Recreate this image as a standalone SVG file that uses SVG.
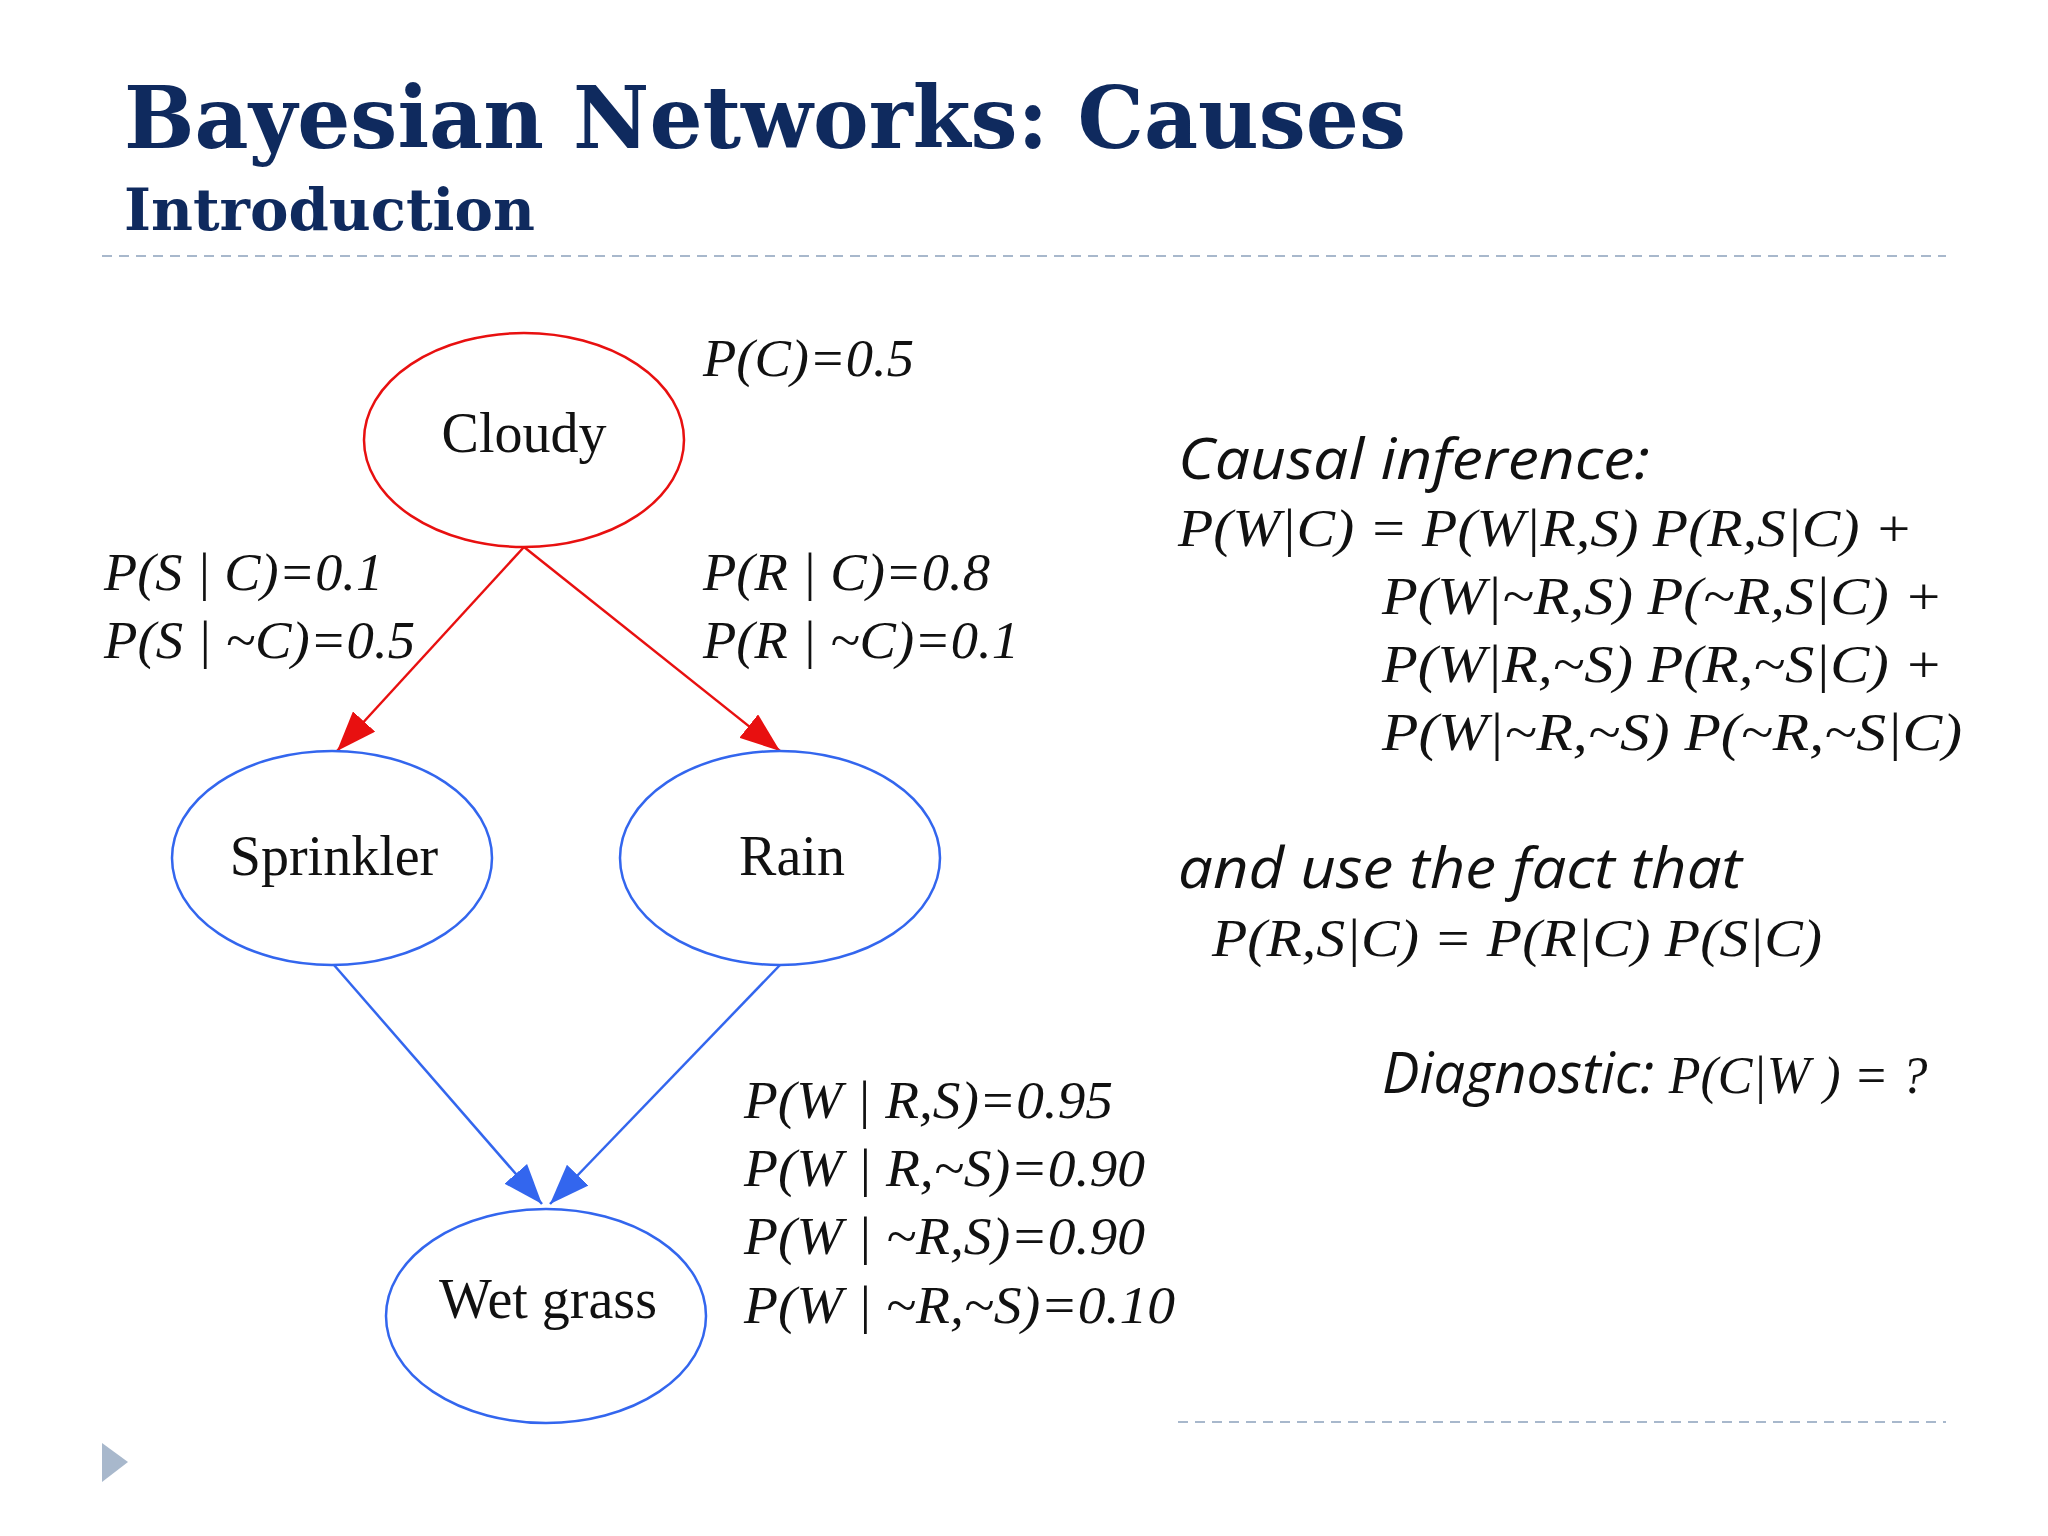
<svg xmlns="http://www.w3.org/2000/svg" width="2048" height="1536" viewBox="0 0 2048 1536">
<style>
.t{font-family:"DejaVu Serif","Liberation Serif",serif;font-weight:bold;fill:#0f2a5e}
.m{font-family:"Liberation Serif",serif;font-style:italic;font-size:52px;fill:#111}
.n{font-family:"Liberation Serif",serif;font-size:56px;fill:#111;text-anchor:middle}
.s{font-family:"Open Sans","Noto Sans",sans-serif;font-style:italic;font-size:56px;fill:#111}
.dash{stroke:#a8b8cc;stroke-width:2;stroke-dasharray:10,7}
</style>
<defs>
<marker id="ar" markerWidth="40" markerHeight="30" refX="40" refY="15" orient="auto" markerUnits="userSpaceOnUse" viewBox="0 0 40 30"><path d="M0,0 L40,15 L0,30 z" fill="#e81010"/></marker>
<marker id="ab" markerWidth="40" markerHeight="30" refX="40" refY="15" orient="auto" markerUnits="userSpaceOnUse" viewBox="0 0 40 30"><path d="M0,0 L40,15 L0,30 z" fill="#3366ee"/></marker>
</defs>
<rect width="2048" height="1536" fill="#fff"/>
<text class="t" x="124" y="148" font-size="86" textLength="1282" lengthAdjust="spacingAndGlyphs">Bayesian Networks: Causes</text>
<text class="t" x="124" y="230" font-size="58" textLength="411" lengthAdjust="spacingAndGlyphs">Introduction</text>
<line class="dash" x1="102" y1="256" x2="1946" y2="256"/>
<line class="dash" x1="1178" y1="1422" x2="1946" y2="1422"/>
<path d="M102,1443 L128,1462 L102,1482 z" fill="#a8b8cc"/>
<g id="connectors" stroke-width="2.5" fill="none">
<line x1="524" y1="547" x2="337" y2="751" stroke="#e81010" marker-end="url(#ar)"/>
<line x1="524" y1="547" x2="780" y2="751" stroke="#e81010" marker-end="url(#ar)"/>
<line x1="334" y1="965" x2="542" y2="1204" stroke="#3366ee" marker-end="url(#ab)"/>
<line x1="780" y1="965" x2="550" y2="1204" stroke="#3366ee" marker-end="url(#ab)"/>
</g>
<g id="cloudy"><ellipse cx="524" cy="440" rx="160" ry="107" fill="none" stroke="#e81010" stroke-width="2.5"/><text class="n" x="524" y="452">Cloudy</text></g>
<g id="sprinkler"><ellipse cx="332" cy="858" rx="160" ry="107" fill="none" stroke="#3366ee" stroke-width="2.5"/><text class="n" x="334" y="875">Sprinkler</text></g>
<g id="rain"><ellipse cx="780" cy="858" rx="160" ry="107" fill="none" stroke="#3366ee" stroke-width="2.5"/><text class="n" x="792" y="875">Rain</text></g>
<g id="wetgrass"><ellipse cx="546" cy="1316" rx="160" ry="107" fill="none" stroke="#3366ee" stroke-width="2.5"/><text class="n" x="548" y="1318">Wet grass</text></g>
<text class="m" x="703" y="376" textLength="211" lengthAdjust="spacingAndGlyphs">P(C)=0.5</text>
<text class="m" x="104" y="590" textLength="279" lengthAdjust="spacingAndGlyphs">P(S | C)=0.1</text>
<text class="m" x="104" y="658" textLength="311" lengthAdjust="spacingAndGlyphs">P(S | ~C)=0.5</text>
<text class="m" x="703" y="590" textLength="287" lengthAdjust="spacingAndGlyphs">P(R | C)=0.8</text>
<text class="m" x="703" y="658" textLength="316" lengthAdjust="spacingAndGlyphs">P(R | ~C)=0.1</text>
<text class="m" x="744" y="1118" textLength="369" lengthAdjust="spacingAndGlyphs">P(W | R,S)=0.95</text>
<text class="m" x="744" y="1186" textLength="401" lengthAdjust="spacingAndGlyphs">P(W | R,~S)=0.90</text>
<text class="m" x="744" y="1254" textLength="401" lengthAdjust="spacingAndGlyphs">P(W | ~R,S)=0.90</text>
<text class="m" x="744" y="1323" textLength="431" lengthAdjust="spacingAndGlyphs">P(W | ~R,~S)=0.10</text>
<text class="s" x="1178" y="479" textLength="472" lengthAdjust="spacingAndGlyphs">Causal inference:</text>
<text class="m" x="1178" y="546" textLength="735" lengthAdjust="spacingAndGlyphs">P(W|C) = P(W|R,S) P(R,S|C) +</text>
<text class="m" x="1382" y="614" textLength="561" lengthAdjust="spacingAndGlyphs">P(W|~R,S) P(~R,S|C) +</text>
<text class="m" x="1382" y="682" textLength="561" lengthAdjust="spacingAndGlyphs">P(W|R,~S) P(R,~S|C) +</text>
<text class="m" x="1382" y="750" textLength="580" lengthAdjust="spacingAndGlyphs">P(W|~R,~S) P(~R,~S|C)</text>
<text class="s" x="1178" y="888" textLength="564" lengthAdjust="spacingAndGlyphs">and use the fact that</text>
<text class="m" x="1212" y="956" textLength="610" lengthAdjust="spacingAndGlyphs">P(R,S|C) = P(R|C) P(S|C)</text>
<text x="1382" y="1093"><tspan class="s">Diagnostic: </tspan><tspan class="m" font-size="56">P(C|W ) = ?</tspan></text>
</svg>
